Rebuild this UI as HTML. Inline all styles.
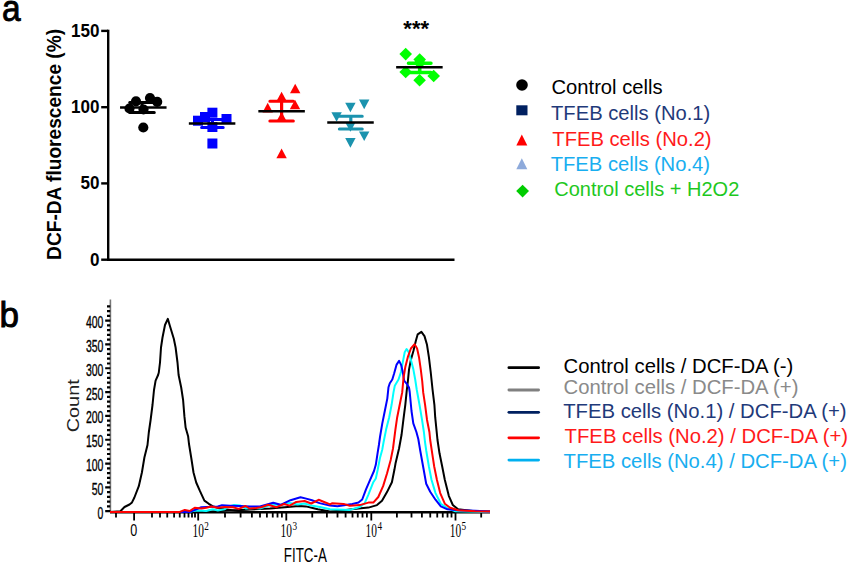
<!DOCTYPE html>
<html><head><meta charset="utf-8"><style>
html,body{margin:0;padding:0;background:#fff;width:848px;height:565px;overflow:hidden;position:relative;font-family:"Liberation Sans", sans-serif;}
</style></head><body>
<svg width="848" height="565" viewBox="0 0 848 565" style="position:absolute;left:0;top:0">
<text transform="translate(1.9,20.5) scale(1,1.1)" font-family='"Liberation Sans", sans-serif' font-size="33.5" stroke="#000" stroke-width="0.8">a</text>
<text x="-0.5" y="327.4" font-family='"Liberation Sans", sans-serif' font-size="35" stroke="#000" stroke-width="0.9">b</text>
<g stroke="#000" stroke-width="2.4" fill="none" stroke-linecap="butt">
<path d="M108.2,29.7 L108.2,260.9"/>
<path d="M107,259.7 L454.5,259.7"/>
<path d="M101.2,30.9 L108,30.9"/>
<path d="M101.2,107.2 L108,107.2"/>
<path d="M101.2,183.4 L108,183.4"/>
<path d="M101.2,259.7 L108,259.7"/>
</g>
<text x="99.4" y="36.8" text-anchor="end" font-family='"Liberation Sans", sans-serif' font-weight="bold" font-size="18" textLength="28.5" lengthAdjust="spacingAndGlyphs">150</text>
<text x="99.4" y="113.1" text-anchor="end" font-family='"Liberation Sans", sans-serif' font-weight="bold" font-size="18" textLength="28.5" lengthAdjust="spacingAndGlyphs">100</text>
<text x="99.4" y="189.3" text-anchor="end" font-family='"Liberation Sans", sans-serif' font-weight="bold" font-size="18" textLength="19.0" lengthAdjust="spacingAndGlyphs">50</text>
<text x="99.4" y="265.6" text-anchor="end" font-family='"Liberation Sans", sans-serif' font-weight="bold" font-size="18" textLength="9.5" lengthAdjust="spacingAndGlyphs">0</text>
<text transform="translate(61.4,259.9) rotate(-90)" font-family='"Liberation Sans", sans-serif' font-weight="bold" font-size="19.3" textLength="231" lengthAdjust="spacingAndGlyphs">DCF-DA fluorescence (%)</text>
<circle cx="129.5" cy="108.5" r="5.1" fill="#000"/>
<circle cx="136" cy="101.3" r="5.1" fill="#000"/>
<circle cx="143.5" cy="109.5" r="5.1" fill="#000"/>
<circle cx="150" cy="98" r="5.1" fill="#000"/>
<circle cx="157.2" cy="101.8" r="5.1" fill="#000"/>
<circle cx="143.3" cy="127.5" r="5.1" fill="#000"/>
<path d="M142,102.4 L142,112.5" stroke="#000" stroke-width="3.2"/>
<path d="M129.7,102.4 L154.3,102.4 M129.7,112.5 L154.3,112.5" stroke="#000" stroke-width="3.0" stroke-linecap="round"/>
<path d="M120.05000000000001,107.5 L166.55,107.5" stroke="#000" stroke-width="2.6"/>
<rect x="207.4" y="138.5" width="10" height="10" fill="#0000ff"/>
<rect x="207.4" y="107.7" width="10" height="10" fill="#0000ff"/>
<rect x="193.0" y="115.7" width="10" height="10" fill="#0000ff"/>
<rect x="200.0" y="112.0" width="10" height="10" fill="#0000ff"/>
<rect x="221.5" y="114.0" width="10" height="10" fill="#0000ff"/>
<rect x="207.4" y="122.0" width="10" height="10" fill="#0000ff"/>
<path d="M212.4,119.6 L212.4,127.4" stroke="#0000ff" stroke-width="3.2"/>
<path d="M201.6,119.6 L223.20000000000002,119.6 M201.6,127.4 L223.20000000000002,127.4" stroke="#0000ff" stroke-width="3.0" stroke-linecap="round"/>
<path d="M188.85,123.5 L235.35,123.5" stroke="#000" stroke-width="2.6"/>
<path d="M295.2,83.7 L300.4,93.3 L290.0,93.3 Z" fill="#ff0000"/>
<path d="M281.6,91.7 L286.8,101.3 L276.40000000000003,101.3 Z" fill="#ff0000"/>
<path d="M295,99.7 L300.2,109.3 L289.8,109.3 Z" fill="#ff0000"/>
<path d="M267.7,102.8 L272.9,112.39999999999999 L262.5,112.39999999999999 Z" fill="#ff0000"/>
<path d="M281.6,112.0 L286.8,121.6 L276.40000000000003,121.6 Z" fill="#ff0000"/>
<path d="M281.6,148.6 L286.8,158.20000000000002 L276.40000000000003,158.20000000000002 Z" fill="#ff0000"/>
<path d="M281.6,101.3 L281.6,120.9" stroke="#ff0000" stroke-width="3.2"/>
<path d="M269.85,101.3 L293.35,101.3 M269.85,120.9 L293.35,120.9" stroke="#ff0000" stroke-width="3.0" stroke-linecap="round"/>
<path d="M258.35,111.3 L304.85,111.3" stroke="#000" stroke-width="2.6"/>
<path d="M359.0,99.60000000000001 L369.4,99.60000000000001 L364.2,109.2 Z" fill="#1b93ae"/>
<path d="M345.2,102.7 L355.59999999999997,102.7 L350.4,112.3 Z" fill="#1b93ae"/>
<path d="M331.40000000000003,112.2 L341.8,112.2 L336.6,121.8 Z" fill="#1b93ae"/>
<path d="M359.0,131.5 L369.4,131.5 L364.2,141.10000000000002 Z" fill="#1b93ae"/>
<path d="M345.2,138.1 L355.59999999999997,138.1 L350.4,147.70000000000002 Z" fill="#1b93ae"/>
<path d="M345.2,122.2 L355.59999999999997,122.2 L350.4,131.8 Z" fill="#1b93ae"/>
<path d="M350.8,116.2 L350.8,128.9" stroke="#1b93ae" stroke-width="3.2"/>
<path d="M339.35,116.2 L362.25,116.2 M339.35,128.9 L362.25,128.9" stroke="#1b93ae" stroke-width="3.0" stroke-linecap="round"/>
<path d="M327.25,122.5 L373.75,122.5" stroke="#000" stroke-width="2.6"/>
<path d="M405.7,47.800000000000004 L412.0,54.1 L405.7,60.4 L399.4,54.1 Z" fill="#00ff00"/>
<path d="M419.7,53.300000000000004 L426.0,59.6 L419.7,65.9 L413.4,59.6 Z" fill="#00ff00"/>
<path d="M405.7,65.7 L412.0,72 L405.7,78.3 L399.4,72 Z" fill="#00ff00"/>
<path d="M433.7,69.7 L440.0,76 L433.7,82.3 L427.4,76 Z" fill="#00ff00"/>
<path d="M419.6,73.9 L425.90000000000003,80.2 L419.6,86.5 L413.3,80.2 Z" fill="#00ff00"/>
<path d="M419.7,56.7 L426.0,63 L419.7,69.3 L413.4,63 Z" fill="#00ff00"/>
<path d="M419.7,63.2 L419.7,72.6" stroke="#00ff00" stroke-width="3.6"/>
<path d="M408.45,63.2 L430.95,63.2 M408.45,72.6 L430.95,72.6" stroke="#00ff00" stroke-width="3.5" stroke-linecap="round"/>
<path d="M396.15,67.3 L442.65,67.3" stroke="#000" stroke-width="2.6"/>
<text x="416.2" y="36" text-anchor="middle" font-family='"Liberation Sans", sans-serif' font-weight="bold" font-size="22">***</text>
<circle cx="522" cy="85.0" r="5.8" fill="#000"/>
<text x="551.5" y="94.2" font-family='"Liberation Sans", sans-serif' font-size="20.2" fill="#000">Control cells</text>
<rect x="516.3" y="105.3" width="11.2" height="10" fill="#002060"/>
<text x="551.0" y="119.7" font-family='"Liberation Sans", sans-serif' font-size="20.2" fill="#1f3a7a">TFEB cells (No.1)</text>
<path d="M521.8,134.5 L527.3,145.5 L516.3,145.5 Z" fill="#ff0000"/>
<text x="552.3" y="145.6" font-family='"Liberation Sans", sans-serif' font-size="20.2" fill="#ff1a1a">TFEB cells (No.2)</text>
<path d="M521.8,158.2 L527.3,169.2 L516.3,169.2 Z" fill="#8eaadb"/>
<text x="550.7" y="171.2" font-family='"Liberation Sans", sans-serif' font-size="20.2" fill="#18aef0">TFEB cells (No.4)</text>
<path d="M522.6,184.7 L529.0,191.1 L522.6,197.5 L516.2,191.1 Z" fill="#00cc00"/>
<text x="554.2" y="196.0" font-family='"Liberation Sans", sans-serif' font-size="20.0" fill="#1ec81e">Control cells + H2O2</text>
<path d="M110.4,299.5 L110.4,512" stroke="#777" stroke-width="1.6"/>
<path d="M105.2,511.20 L110.4,511.20 M107,506.44 L110.2,506.44 M107,501.67 L110.2,501.67 M107,496.90 L110.2,496.90 M107,492.14 L110.2,492.14 M105.2,487.38 L110.4,487.38 M107,482.61 L110.2,482.61 M107,477.84 L110.2,477.84 M107,473.08 L110.2,473.08 M107,468.31 L110.2,468.31 M105.2,463.55 L110.4,463.55 M107,458.78 L110.2,458.78 M107,454.02 L110.2,454.02 M107,449.25 L110.2,449.25 M107,444.49 L110.2,444.49 M105.2,439.73 L110.4,439.73 M107,434.96 L110.2,434.96 M107,430.19 L110.2,430.19 M107,425.43 L110.2,425.43 M107,420.66 L110.2,420.66 M105.2,415.90 L110.4,415.90 M107,411.13 L110.2,411.13 M107,406.37 L110.2,406.37 M107,401.61 L110.2,401.61 M107,396.84 L110.2,396.84 M105.2,392.07 L110.4,392.07 M107,387.31 L110.2,387.31 M107,382.54 L110.2,382.54 M107,377.78 L110.2,377.78 M107,373.01 L110.2,373.01 M105.2,368.25 L110.4,368.25 M107,363.49 L110.2,363.49 M107,358.72 L110.2,358.72 M107,353.95 L110.2,353.95 M107,349.19 L110.2,349.19 M105.2,344.42 L110.4,344.42 M107,339.66 L110.2,339.66 M107,334.89 L110.2,334.89 M107,330.13 L110.2,330.13 M107,325.37 L110.2,325.37 M105.2,320.60 L110.4,320.60 M107,315.84 L110.2,315.84 M107,311.07 L110.2,311.07 M107,306.31 L110.2,306.31" stroke="#000" stroke-width="2.2"/>
<text x="103.4" y="518.7" text-anchor="end" font-family='"Liberation Sans", sans-serif' font-size="16.8" stroke="#000" stroke-width="0.35" textLength="5.8" lengthAdjust="spacingAndGlyphs">0</text>
<text x="103.4" y="494.9" text-anchor="end" font-family='"Liberation Sans", sans-serif' font-size="16.8" stroke="#000" stroke-width="0.35" textLength="11.7" lengthAdjust="spacingAndGlyphs">50</text>
<text x="103.4" y="471.1" text-anchor="end" font-family='"Liberation Sans", sans-serif' font-size="16.8" stroke="#000" stroke-width="0.35" textLength="17.5" lengthAdjust="spacingAndGlyphs">100</text>
<text x="103.4" y="447.2" text-anchor="end" font-family='"Liberation Sans", sans-serif' font-size="16.8" stroke="#000" stroke-width="0.35" textLength="17.5" lengthAdjust="spacingAndGlyphs">150</text>
<text x="103.4" y="423.4" text-anchor="end" font-family='"Liberation Sans", sans-serif' font-size="16.8" stroke="#000" stroke-width="0.35" textLength="17.5" lengthAdjust="spacingAndGlyphs">200</text>
<text x="103.4" y="399.6" text-anchor="end" font-family='"Liberation Sans", sans-serif' font-size="16.8" stroke="#000" stroke-width="0.35" textLength="17.5" lengthAdjust="spacingAndGlyphs">250</text>
<text x="103.4" y="375.8" text-anchor="end" font-family='"Liberation Sans", sans-serif' font-size="16.8" stroke="#000" stroke-width="0.35" textLength="17.5" lengthAdjust="spacingAndGlyphs">300</text>
<text x="103.4" y="351.9" text-anchor="end" font-family='"Liberation Sans", sans-serif' font-size="16.8" stroke="#000" stroke-width="0.35" textLength="17.5" lengthAdjust="spacingAndGlyphs">350</text>
<text x="103.4" y="328.1" text-anchor="end" font-family='"Liberation Sans", sans-serif' font-size="16.8" stroke="#000" stroke-width="0.35" textLength="17.5" lengthAdjust="spacingAndGlyphs">400</text>
<text transform="translate(79.4,432.3) rotate(-90) scale(1,0.86)" fill="#222" font-family='"Liberation Sans", sans-serif' font-size="19.6" textLength="53" lengthAdjust="spacingAndGlyphs">Count</text>
<path d="M110,512.6 L490,512.6" stroke="#000" stroke-width="2"/>
<path d="M134.1,513 L134.1,520.6 M198.2,513 L198.2,520.6 M286.3,513 L286.3,520.6 M371.3,513 L371.3,520.6 M455.5,513 L455.5,520.6 M116,513 L116,517.6 M152,513 L152,517.6 M160,513 L160,517.6 M167.25,513 L167.25,517.6 M174.1,513 L174.1,517.6 M179.75,513 L179.75,517.6 M184.5,513 L184.5,517.6 M188.5,513 L188.5,517.6 M192,513 L192,517.6 M195,513 L195,517.6 M225,513 L225,517.6 M240.6,513 L240.6,517.6 M251.9,513 L251.9,517.6 M260,513 L260,517.6 M266.9,513 L266.9,517.6 M272.75,513 L272.75,517.6 M277.5,513 L277.5,517.6 M281.9,513 L281.9,517.6 M312.25,513 L312.25,517.6 M326.9,513 L326.9,517.6 M337.5,513 L337.5,517.6 M345.6,513 L345.6,517.6 M352.5,513 L352.5,517.6 M357.75,513 L357.75,517.6 M362.5,513 L362.5,517.6 M366.9,513 L366.9,517.6 M396.9,513 L396.9,517.6 M411.5,513 L411.5,517.6 M421.9,513 L421.9,517.6 M430.25,513 L430.25,517.6 M437.25,513 L437.25,517.6 M442.75,513 L442.75,517.6 M447.5,513 L447.5,517.6 M451.5,513 L451.5,517.6 M481.2,513 L481.2,517.6" stroke="#000" stroke-width="1.8"/>
<text x="133.8" y="536.3" text-anchor="middle" font-family='"Liberation Sans", sans-serif' font-size="16.5" textLength="7" lengthAdjust="spacingAndGlyphs">0</text>
<text x="192.5" y="536.7" font-family="Liberation Serif, serif" font-size="18.3" textLength="11.4" lengthAdjust="spacingAndGlyphs">10</text>
<text x="204.3" y="530.2" font-family="Liberation Serif, serif" font-size="12.5" textLength="4.6" lengthAdjust="spacingAndGlyphs">2</text>
<text x="280.6" y="536.7" font-family="Liberation Serif, serif" font-size="18.3" textLength="11.4" lengthAdjust="spacingAndGlyphs">10</text>
<text x="292.4" y="530.2" font-family="Liberation Serif, serif" font-size="12.5" textLength="4.6" lengthAdjust="spacingAndGlyphs">3</text>
<text x="365.6" y="536.7" font-family="Liberation Serif, serif" font-size="18.3" textLength="11.4" lengthAdjust="spacingAndGlyphs">10</text>
<text x="377.4" y="530.2" font-family="Liberation Serif, serif" font-size="12.5" textLength="4.6" lengthAdjust="spacingAndGlyphs">4</text>
<text x="449.8" y="536.7" font-family="Liberation Serif, serif" font-size="18.3" textLength="11.4" lengthAdjust="spacingAndGlyphs">10</text>
<text x="461.6" y="530.2" font-family="Liberation Serif, serif" font-size="12.5" textLength="4.6" lengthAdjust="spacingAndGlyphs">5</text>
<text x="283.8" y="561.8" font-family='"Liberation Sans", sans-serif' font-size="20" textLength="43" lengthAdjust="spacingAndGlyphs">FITC-A</text>
<path d="M110.0,511.9 L120.4,511.2 L124.5,507.0 L129.5,504.5 L132.0,502.4 L134.4,497.5 L138.8,486.2 L141.9,472.5 L144.4,457.5 L147.5,445.0 L148.8,432.5 L150.6,420.0 L152.5,405.0 L154.0,390.0 L155.6,380.6 L158.1,375.0 L158.8,372.5 L160.0,362.5 L161.0,347.5 L162.5,337.5 L165.0,325.0 L167.8,318.8 L170.0,326.2 L173.8,338.8 L175.6,347.5 L177.5,362.5 L178.6,375.0 L181.2,387.5 L183.1,400.0 L184.4,416.2 L185.6,427.5 L188.1,436.2 L189.0,444.0 L191.2,457.5 L193.5,472.5 L196.2,482.5 L200.0,491.2 L204.4,500.6 L208.8,503.8 L212.5,506.2 L220.0,508.5 L235.0,510.8 L250.0,511.9 L490.0,511.9" fill="none" stroke="#000" stroke-width="2.0" stroke-linejoin="round"/>
<path d="M110.0,511.9 L200.0,511.9 L240.0,510.0 L270.0,508.5 L284.8,507.2 L298.8,506.0 L306.0,506.4 L317.8,509.3 L330.0,511.5 L340.0,510.8 L356.0,508.8 L368.4,507.6 L377.0,505.1 L382.0,500.8 L387.0,492.1 L391.9,482.2 L394.4,469.8 L395.5,463.6 L399.1,448.2 L401.6,434.5 L403.4,419.7 L405.3,404.8 L406.8,390.0 L407.8,382.0 L409.0,369.6 L410.9,359.7 L413.4,351.0 L415.8,341.1 L417.7,334.3 L421.4,331.8 L424.5,336.1 L427.0,344.8 L428.9,357.2 L430.7,372.0 L432.6,390.0 L434.4,404.8 L435.2,417.2 L437.5,440.0 L439.5,453.3 L442.2,466.5 L444.8,479.8 L448.8,495.8 L452.8,505.0 L458.1,509.3 L475.0,511.3 L490.0,511.6" fill="none" stroke="#000" stroke-width="2.0" stroke-linejoin="round"/>
<path d="M110.0,511.9 L190.0,511.9 L193.0,511.0 L198.0,510.5 L206.2,511.0 L212.8,509.3 L217.8,510.5 L224.4,509.3 L228.0,507.0 L234.0,505.0 L240.0,505.5 L246.0,508.5 L255.0,508.0 L260.0,508.5 L272.4,504.4 L280.0,505.0 L289.7,503.1 L298.0,504.4 L304.6,503.5 L311.2,505.6 L320.0,507.0 L330.0,509.3 L349.8,509.9 L359.7,507.0 L364.7,503.2 L368.4,494.6 L373.3,482.2 L375.8,478.5 L377.7,469.8 L380.1,457.4 L382.3,449.4 L383.6,442.0 L386.1,429.6 L389.2,417.2 L391.6,404.8 L393.5,392.4 L394.8,385.7 L398.5,379.5 L401.0,372.0 L402.8,362.1 L404.7,352.2 L406.6,349.1 L408.4,351.6 L410.9,359.7 L413.4,369.6 L415.2,379.5 L416.8,390.0 L419.5,404.8 L422.0,419.7 L423.9,432.0 L425.0,442.0 L426.3,451.0 L428.9,466.5 L431.5,479.8 L435.5,493.1 L440.8,503.7 L447.5,508.4 L455.4,511.3 L490.0,511.9" fill="none" stroke="#00ffff" stroke-width="2.0" stroke-linejoin="round"/>
<path d="M110.0,511.9 L190.0,511.9 L201.3,507.3 L217.8,506.5 L222.0,505.3 L230.0,505.7 L240.0,506.0 L250.0,506.5 L260.0,506.4 L273.2,502.7 L280.6,504.8 L290.5,500.2 L300.5,497.3 L306.2,498.6 L312.0,500.2 L319.5,503.1 L330.0,505.6 L337.4,506.3 L352.3,503.9 L358.5,502.6 L362.2,499.5 L365.9,489.6 L370.2,479.7 L374.0,471.0 L375.8,464.8 L377.7,452.4 L378.9,445.0 L380.0,437.0 L382.3,423.4 L384.8,411.0 L387.3,398.6 L388.5,387.2 L389.8,383.2 L392.3,379.5 L394.2,373.3 L396.6,364.6 L399.1,360.9 L401.0,364.6 L402.8,372.0 L404.1,380.7 L407.2,384.4 L409.0,387.5 L409.7,392.0 L411.5,411.0 L413.3,423.4 L416.4,432.0 L418.3,439.0 L420.3,451.0 L423.6,469.2 L426.2,483.8 L430.2,491.8 L435.5,499.7 L440.8,506.4 L447.5,509.3 L458.1,510.3 L475.0,510.8 L490.0,511.5" fill="none" stroke="#0000ff" stroke-width="2.0" stroke-linejoin="round"/>
<path d="M110.0,511.9 L179.8,511.9 L184.8,509.9 L189.7,511.0 L194.7,507.8 L201.3,508.6 L206.2,507.8 L211.2,506.5 L217.8,507.8 L224.4,506.9 L233.0,507.2 L238.8,508.9 L245.4,506.0 L249.5,508.5 L256.2,508.0 L261.1,507.2 L268.3,504.8 L276.5,507.2 L284.0,504.0 L289.7,505.6 L296.3,501.9 L304.6,501.0 L311.2,503.5 L318.6,499.8 L326.0,502.7 L330.0,504.4 L332.4,503.2 L343.6,503.9 L349.8,505.7 L359.7,505.1 L368.4,502.6 L373.3,502.6 L378.3,497.0 L383.2,485.9 L387.0,473.5 L390.7,459.9 L393.0,448.5 L395.4,429.6 L397.2,417.2 L399.7,404.8 L402.2,392.4 L403.5,378.0 L405.3,367.1 L407.8,357.2 L410.9,348.5 L414.6,344.2 L417.1,348.5 L419.0,357.2 L420.8,369.6 L422.2,381.0 L423.2,392.4 L425.1,404.8 L427.0,419.7 L429.4,432.0 L430.2,440.0 L432.2,453.3 L434.2,466.5 L436.9,479.8 L440.2,493.1 L444.8,503.7 L450.1,507.7 L458.1,510.3 L475.0,511.3 L490.0,511.5" fill="none" stroke="#ff0000" stroke-width="2.0" stroke-linejoin="round"/>
<path d="M508.9,367.7 L538.6,367.7" stroke="#000" stroke-width="2.8" stroke-linecap="round"/>
<text x="563.5" y="373.0" font-family='"Liberation Sans", sans-serif' font-size="20.3" fill="#000">Control cells / DCF-DA (-)</text>
<path d="M508.9,390.0 L538.6,390.0" stroke="#808080" stroke-width="2.8" stroke-linecap="round"/>
<text x="563.5" y="394.4" font-family='"Liberation Sans", sans-serif' font-size="20.3" fill="#8a8a8a">Control cells / DCF-DA (+)</text>
<path d="M508.9,412.3 L538.6,412.3" stroke="#002060" stroke-width="2.8" stroke-linecap="round"/>
<text x="563.2" y="417.7" font-family='"Liberation Sans", sans-serif' font-size="20.3" fill="#1f3a7a">TFEB cells (No.1) / DCF-DA (+)</text>
<path d="M508.9,437.8 L538.6,437.8" stroke="#ff0000" stroke-width="2.8" stroke-linecap="round"/>
<text x="564.6" y="442.9" font-family='"Liberation Sans", sans-serif' font-size="20.3" fill="#ff1a1a">TFEB cells (No.2) / DCF-DA (+)</text>
<path d="M508.9,460.1 L538.6,460.1" stroke="#00b0f0" stroke-width="2.8" stroke-linecap="round"/>
<text x="563.5" y="468.3" font-family='"Liberation Sans", sans-serif' font-size="20.3" fill="#18aef0">TFEB cells (No.4) / DCF-DA (+)</text>
</svg>
</body></html>
